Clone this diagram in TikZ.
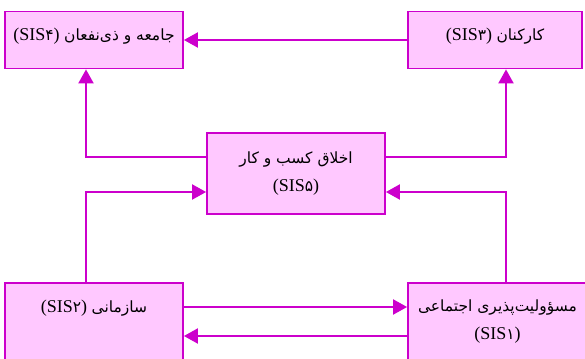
\documentclass[tikz,border=0pt]{standalone}
\usepackage{fontspec}
\setmainfont{Liberation Serif}
\newfontfamily\fa[Script=Arabic,Scale=0.86]{DejaVu Sans}
\TeXXeTstate=1
\usetikzlibrary{arrows.meta}
\definecolor{mag}{RGB}{204,0,204}
\definecolor{pinkfill}{RGB}{255,200,255}
\newcommand{\sis}[1]{(SIS{\fa #1})}
\tikzset{
  box/.style={draw=mag, line width=1.8pt, fill=pinkfill, inner sep=0pt, align=center},
  arr/.style={draw=mag, line width=2pt, -{Triangle[length=14pt,width=15pt]}},
  txt/.style={align=center, font=\fontsize{18}{28}\selectfont},
}
\begin{document}
\begin{tikzpicture}[x=1pt,y=-1pt,font=\fontsize{18}{28}\selectfont]
\useasboundingbox (0,0) rectangle (585,358);
\begin{scope}
\clip (0,0) rectangle (585,358);
\node[box, minimum width=178pt, minimum height=57pt,
  label={[txt,yshift=4pt]center:\sis{۴}\ {\fa\beginR جامعه و ذی‌نفعان\endR}}] (s4) at (94,40) {};
\node[box, minimum width=174pt, minimum height=57pt,
  label={[txt,yshift=4pt]center:\sis{۳}\ {\fa\beginR کارکنان\endR}}] (s3) at (495,40) {};
\node[box, minimum width=178pt, minimum height=81pt] (s5) at (296,173.5)
  {{\fa\beginR اخلاق کسب و کار\endR}\\\sis{۵}};
\node[box, minimum width=178pt, minimum height=100pt, anchor=north,
  label={[txt,anchor=north,yshift=-14pt]north:\sis{۲}\ {\fa\beginR سازمانی\endR}}] (s2) at (94,282) {};
\node[box, minimum width=179pt, minimum height=100pt, anchor=north,
  label={[txt,anchor=north,yshift=-14pt]north:{\fa\beginR مسؤولیت‌پذیری اجتماعی\endR}\\\sis{۱}}] (s1) at (497.5,282) {};
\end{scope}
\draw[arr] (s3) -- (s4);
\draw[arr] (s5.west |- 0,157) -| ([xshift=-8pt]s4.south);
\draw[arr] (s5.east |- 0,157) -| ([xshift=11pt]s3.south);
\draw[arr] ([xshift=-8pt]s2.north) |- (s5.west |- 0,192);
\draw[arr] ([xshift=8.5pt]s1.north) |- (s5.east |- 0,192);
\draw[arr] (s2.east |- 0,307) -- (s1.west |- 0,307);
\draw[arr] (s1.west |- 0,336) -- (s2.east |- 0,336);
\end{tikzpicture}
\end{document}
